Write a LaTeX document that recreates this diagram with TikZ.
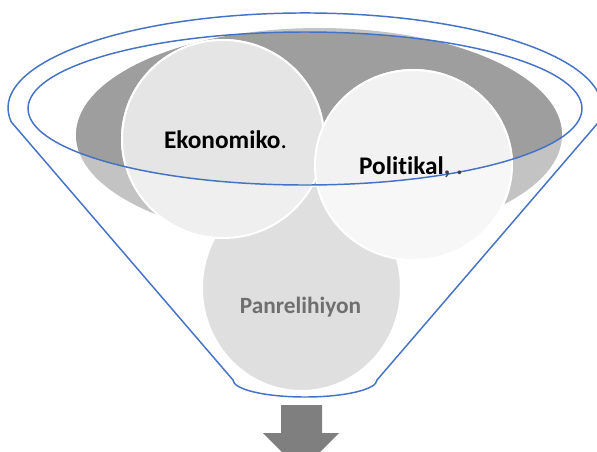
\documentclass[tikz,border=0pt]{standalone}
\usepackage{fontspec}
\setmainfont{Carlito}[Ligatures=NoCommon]
\usepackage{xcolor}
\usetikzlibrary{positioning,shapes.geometric}
\definecolor{funnelblue}{HTML}{4472C4}
\definecolor{graydark}{HTML}{9E9E9E}
\definecolor{graylight}{HTML}{C3C3C3}
\definecolor{ekofill}{HTML}{EFEFEF}
\definecolor{ekodark}{HTML}{E5E5E5}
\definecolor{polifill}{HTML}{F7F7F7}
\definecolor{polidark}{HTML}{F2F2F2}
\definecolor{panfill}{HTML}{DFDFDF}
\definecolor{pantext}{HTML}{6F6F6F}
\definecolor{commagray}{HTML}{404040}
\definecolor{arrowgray}{HTML}{7F7F7F}
\tikzset{ball/.style={ellipse,draw=white,line width=1.5pt,inner sep=0pt},
  rim/.style={draw=funnelblue,line width=1.1pt},
  word/.style={anchor=base,font=\bfseries\fontsize{19}{23}\selectfont}}

\begin{document}
\begin{tikzpicture}[x=0.75pt,y=-0.75pt]
      \useasboundingbox (0,0) rectangle (597,451);
      \clip (0,0) rectangle (597,451);
      % top of the funnel
      \fill[graylight] (319,135) ellipse[x radius=243, y radius=107];
      \begin{scope}
        \clip (305,108.5) ellipse[x radius=277, y radius=76.5];
        \fill[graydark] (319,135) ellipse[x radius=243, y radius=107];
      \end{scope}
      \node[ball, fill=panfill, minimum width=149.25pt, minimum height=154.5pt] (pan) at (301.5,288) {};
      \node[ball, fill=ekofill, minimum width=151.5pt, minimum height=148.5pt] (eko) at (223,139) {};
      \node[ball, fill=polifill, minimum width=147.75pt, minimum height=142.5pt] (poli) at (413.5,165) {};
      \begin{scope}
        \clip (305,108.5) ellipse[x radius=277, y radius=76.5];
        \filldraw[white, fill=ekodark, line width=1.5pt] (eko.center) ellipse[x radius=75.75pt, y radius=74.25pt];
        \filldraw[white, fill=polidark, line width=1.5pt] (poli.center) ellipse[x radius=73.875pt, y radius=71.25pt];
      \end{scope}
      % funnel outline
      \draw[rim] (305,108.5) ellipse[x radius=277, y radius=76.5];
      \draw[rim] (11.3,122) arc[start angle=171.5, end angle=368.5, x radius=297, y radius=95]
        -- (377,380) arc[start angle=0, end angle=180, x radius=72, y radius=17] -- cycle;
      \node[word] (ekotext) at (225.5,148) {Ekonomiko{\mdseries.}};
      \node[word] (politext) at (411,174) {Politikal\textcolor{commagray}{, .}};
      \node[word, text=pantext, font=\bfseries\fontsize{17.5}{21}\selectfont] (pantext) at (300.5,313) {Panrelihiyon};
      \fill[arrowgray] (281,405) -- (322,405) -- (322,433) -- (339,433) -- (301,471) -- (263,433) -- (281,433) -- cycle;
    \end{tikzpicture}
\end{document}
